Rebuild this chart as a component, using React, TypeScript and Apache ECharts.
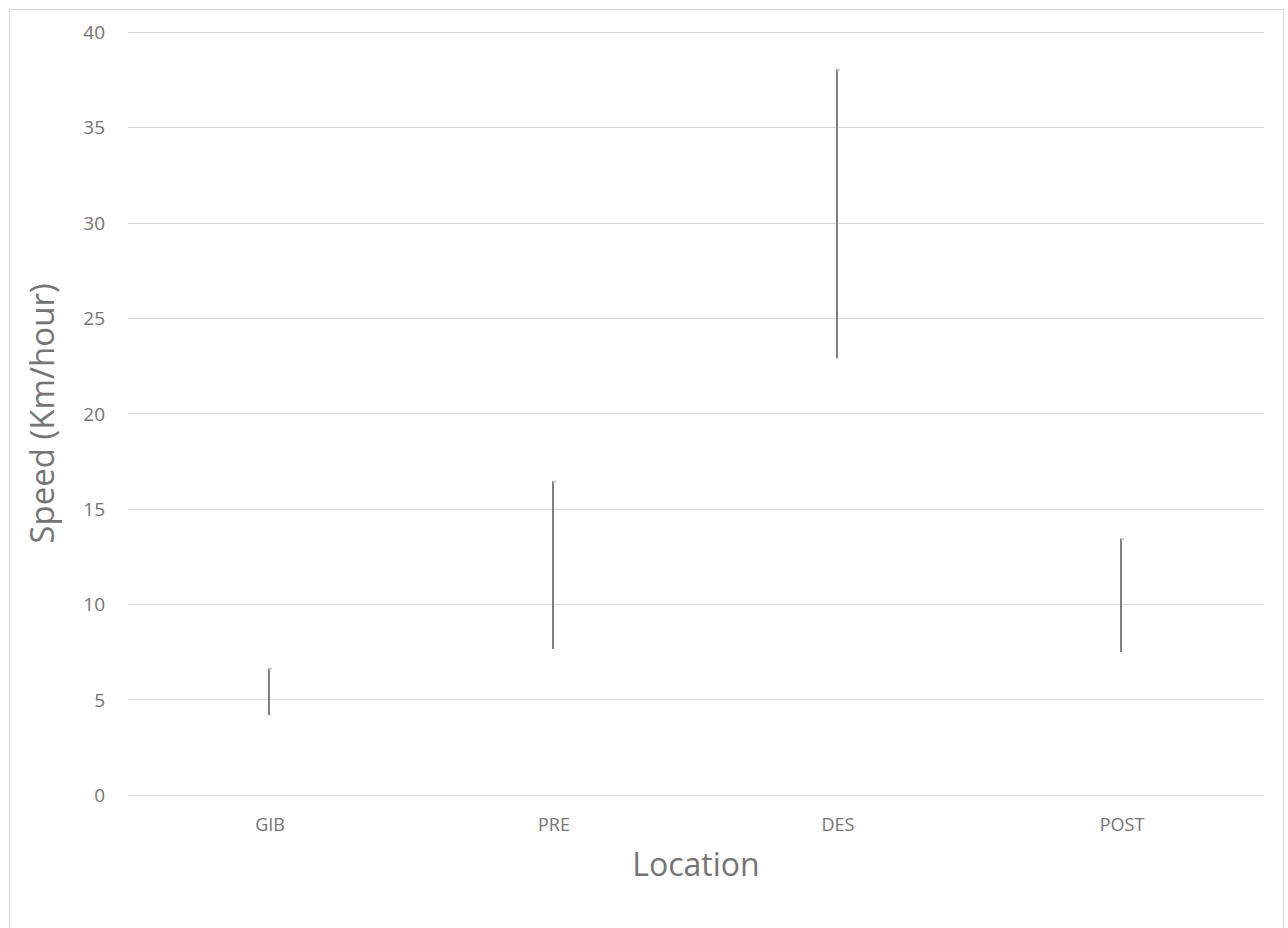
import React, { useEffect, useRef } from "react";
import * as echarts from "echarts";

const categories = ["GIB", "PRE", "DES", "POST"];
const lowValues = [4.2, 7.65, 22.9, 7.5];
const highValues = [6.65, 16.45, 38.05, 13.45];
const yTicks = { min: 0, max: 40, interval: 5 };

export default function App() {
  const ref = useRef<HTMLDivElement>(null);
  useEffect(() => {
    document.body.style.margin = "0";
    const chart = echarts.init(ref.current!, undefined, { renderer: "svg" });
    const font = "'Open Sans', 'Liberation Sans', sans-serif";
    const textColor = "#757575";
    const data = categories.map((c, i) => [i, lowValues[i], highValues[i]]);
    chart.setOption({
      animation: false,
      backgroundColor: "#ffffff",
      textStyle: { fontFamily: font },
      graphic: [
        {
          type: "rect",
          shape: { x: 9.5, y: 9.5, width: 1274, height: 930 },
          style: { fill: "none", stroke: "#d9d9d9", lineWidth: 1 },
          silent: true,
        },
      ],
      grid: { left: 128, right: 24, top: 32, bottom: 133 },
      xAxis: {
        type: "category",
        data: categories,
        name: "Location",
        nameLocation: "middle",
        nameGap: 52,
        nameTextStyle: { fontSize: 32, color: textColor, fontFamily: font },
        axisLine: { lineStyle: { color: "#d9d9d9", width: 1 } },
        axisTick: { show: false },
        axisLabel: { color: textColor, fontSize: 18, margin: 20, fontFamily: font },
        splitLine: { show: false },
      },
      yAxis: {
        type: "value",
        min: yTicks.min,
        max: yTicks.max,
        interval: yTicks.interval,
        name: "Speed (Km/hour)",
        nameLocation: "middle",
        nameGap: 70,
        nameTextStyle: { fontSize: 33, color: textColor, fontFamily: font },
        axisLine: { show: false },
        axisTick: { show: false },
        axisLabel: { color: textColor, fontSize: 19, margin: 23, fontFamily: font },
        splitLine: { lineStyle: { color: "#d9d9d9", width: 1 } },
      },
      series: [
        {
          type: "custom",
          data,
          encode: { x: 0, y: [1, 2] },
          renderItem: (params: any, api: any) => {
            const lo = api.coord([api.value(0), api.value(1)]);
            const hi = api.coord([api.value(0), api.value(2)]);
            const x = Math.round(lo[0]) - 1;
            return {
              type: "group",
              children: [
                {
                  type: "line",
                  shape: { x1: x, y1: lo[1], x2: x, y2: hi[1] },
                  style: { stroke: "#808080", lineWidth: 2 },
                },
                {
                  type: "line",
                  shape: { x1: x, y1: hi[1] + 0.5, x2: x + 3, y2: hi[1] + 0.5 },
                  style: { stroke: "#c8c8c8", lineWidth: 2 },
                },
              ],
            };
          },
        },
      ],
    });
    return () => chart.dispose();
  }, []);
  return <div ref={ref} style={{ width: 1288, height: 928 }} />;
}
